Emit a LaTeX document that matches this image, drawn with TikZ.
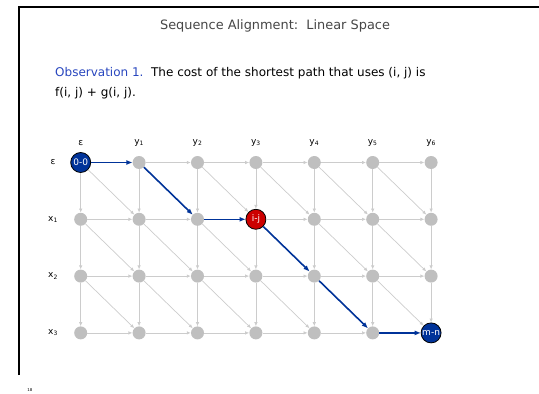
\documentclass[tikz,border=0pt]{standalone}
\usepackage{fontspec}
\setmainfont{DejaVu Sans}
\usetikzlibrary{arrows.meta}

\definecolor{pathblue}{RGB}{0,51,153}
\definecolor{cellred}{RGB}{204,0,0}
\definecolor{obsblue}{RGB}{40,70,190}
\definecolor{titlegray}{RGB}{70,70,70}

\begin{document}
\begin{tikzpicture}[x=1pt, y=-1pt,
    cell/.style={circle, fill=gray!50, minimum size=13pt, inner sep=0pt},
    cellhi/.style={circle, draw=black, line width=0.8pt, minimum size=20pt, inner sep=0pt, text=white, font=\fontsize{9}{9}\selectfont},
    edge/.style={-{Latex[length=4pt, width=3.5pt]}, gray!40, line width=0.7pt},
    hop/.style={-{Latex[length=6pt, width=5pt]}, pathblue, line width=1.6pt},
    lab/.style={font=\fontsize{9}{9}\selectfont}
]
\useasboundingbox (0,0) rectangle (539,394);

% === FRAME AND TEXT ===
\draw[line width=2.8pt] (19,375) -- (19,7) -- (539,7);
\node[font=\fontsize{12.9}{13}\selectfont, text=titlegray] (title) at (275,26) {Sequence Alignment:\ \ Linear Space};
\node[anchor=base west, inner sep=0pt, font=\fontsize{12}{12}\selectfont] (obs1) at (55,76) {\textcolor{obsblue}{Observation 1.}\ \ The cost of the shortest path that uses (i, j) is};
\node[anchor=base west, inner sep=0pt, font=\fontsize{12}{12}\selectfont] (obs2) at (55,96) {f(i, j) + g(i, j).};
\node[font=\fontsize{4}{4}\selectfont] (page) at (30,390) {18};

% === GRID ===
\foreach \r in {0,...,3}
  \foreach \c in {0,...,6}
    \node[cell] (g-\r-\c) at ({80.7+58.4*\c}, {162.5+56.8*\r}) {};

% column and row labels
\node[lab] (ceps) at (80.7,143) {ε};
\foreach \c in {1,...,6}
  \node[lab] (cy\c) at ({80.7+58.4*\c}, 143) {y\textsubscript{\c}};
\node[lab] (reps) at (53,162.5) {ε};
\foreach \r in {1,2,3}
  \node[lab] (rx\r) at (53, {162.5+56.8*\r}) {x\textsubscript{\r}};

% special cells
\node[cellhi, fill=pathblue] (g-0-0) at (g-0-0) {0-0};
\node[cellhi, fill=cellred] (g-1-3) at (g-1-3) {i-j};
\node[cellhi, fill=pathblue] (g-3-6) at (g-3-6) {m-n};

% === EDGES ===
\foreach \r in {0,...,3}
  \foreach \c [count=\nc from 1] in {0,...,5}
    \draw[edge] (g-\r-\c) -- (g-\r-\nc);
\foreach \r [count=\nr from 1] in {0,...,2}
  \foreach \c in {0,...,6}
    \draw[edge] (g-\r-\c) -- (g-\nr-\c);
\foreach \r [count=\nr from 1] in {0,...,2}
  \foreach \c [count=\nc from 1] in {0,...,5}
    \draw[edge] (g-\r-\c) -- (g-\nr-\nc);

% shortest path
\draw[hop] (g-0-0) -- (g-0-1);
\draw[hop] (g-0-1) -- (g-1-2);
\draw[hop] (g-1-2) -- (g-1-3);
\draw[hop] (g-1-3) -- (g-2-4);
\draw[hop] (g-2-4) -- (g-3-5);
\draw[hop] (g-3-5) -- (g-3-6);

\end{tikzpicture}
\end{document}
